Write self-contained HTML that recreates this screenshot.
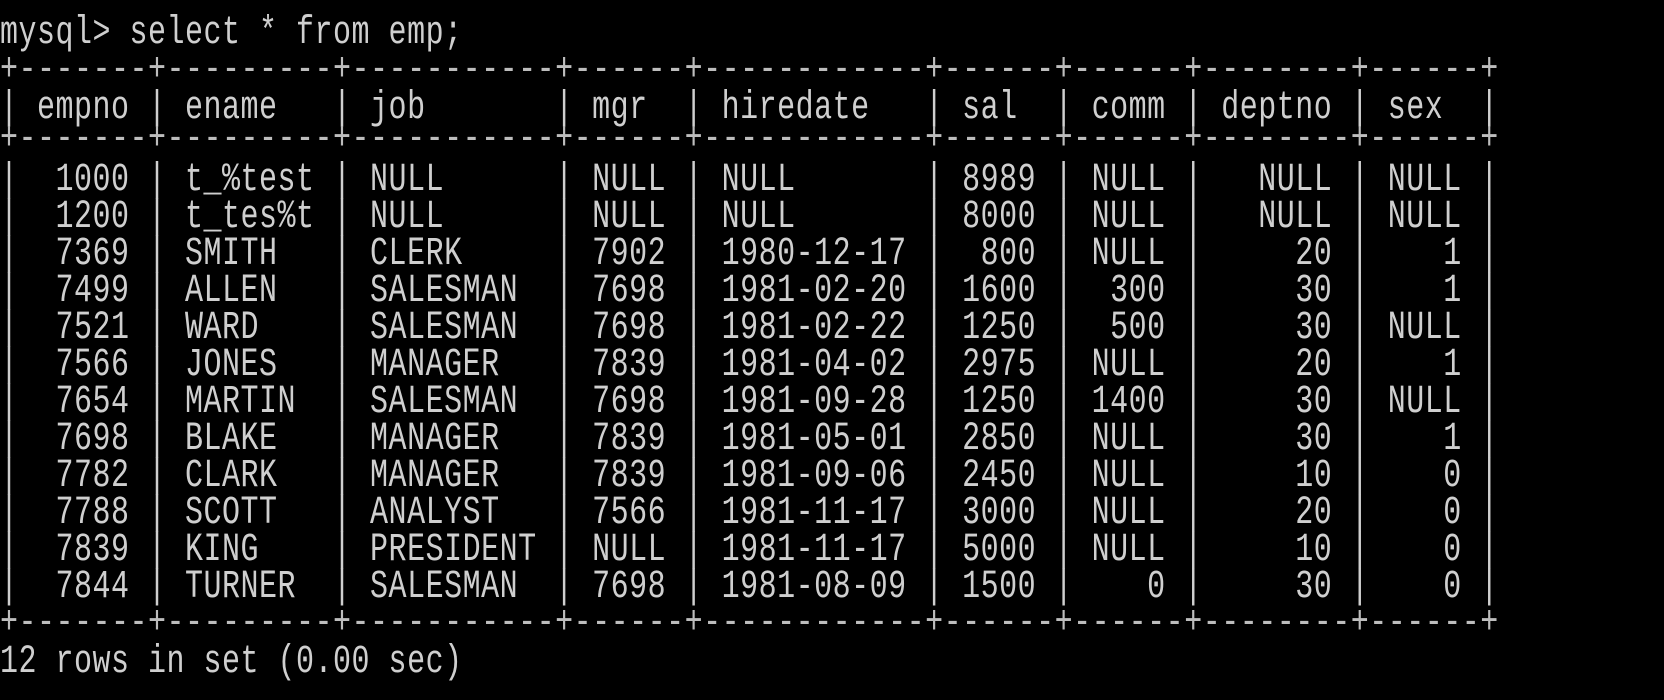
<!DOCTYPE html>
<html><head><meta charset="utf-8">
<style>
html,body{margin:0;padding:0;background:#000;}
#term{position:relative;width:1664px;height:700px;background:#000;overflow:hidden;}
.ln{position:absolute;left:0;height:37px;line-height:37px;white-space:pre;
font-family:"Liberation Mono","Noto Sans CJK SC",monospace;font-size:30px;letter-spacing:0.5px;
color:#cfcfcf;transform:scaleY(1.32);transform-origin:0 50%;}
.bd{color:#bdbdbd;}
</style></head><body>
<div id="term"></div>
<script>
const headers=["empno","ename","job","mgr","hiredate","sal","comm","deptno","sex"];
const widths=[5,7,9,4,10,4,4,6,4];
const rightAlign=[true,false,false,false,false,true,true,true,true];
const empno=["1000","1200","7369","7499","7521","7566","7654","7698","7782","7788","7839","7844"];
const ename=["t_%test","t_tes%t","SMITH","ALLEN","WARD","JONES","MARTIN","BLAKE","CLARK","SCOTT","KING","TURNER"];
const job=["NULL","NULL","CLERK","SALESMAN","SALESMAN","MANAGER","SALESMAN","MANAGER","MANAGER","ANALYST","PRESIDENT","SALESMAN"];
const mgr=["NULL","NULL","7902","7698","7698","7839","7698","7839","7839","7566","NULL","7698"];
const hiredate=["NULL","NULL","1980-12-17","1981-02-20","1981-02-22","1981-04-02","1981-09-28","1981-05-01","1981-09-06","1981-11-17","1981-11-17","1981-08-09"];
const sal=["8989","8000","800","1600","1250","2975","1250","2850","2450","3000","5000","1500"];
const comm=["NULL","NULL","NULL","300","500","NULL","1400","NULL","NULL","NULL","NULL","0"];
const deptno=["NULL","NULL","20","30","30","20","30","30","10","20","10","30"];
const sex=["NULL","NULL","1","1","NULL","1","NULL","1","0","0","0","0"];
const cols=[empno,ename,job,mgr,hiredate,sal,comm,deptno,sex];

const term=document.getElementById('term');
function line(text,cy,name,cls){
  const d=document.createElement('div');
  d.className='ln'+(cls?' '+cls:'');
  d.style.top=(cy-18.5)+'px';
  d.textContent=text;
  
  
  term.appendChild(d);
}
const border='+'+widths.map(w=>'-'.repeat(w+2)).join('+')+'+';
function row(vals,hdr){
  return '|'+vals.map((v,i)=>{
    const w=widths[i];
    const s=(!hdr&&rightAlign[i])?v.padStart(w):v.padEnd(w);
    return ' '+s+' ';
  }).join('|')+'|';
}
line('mysql> select * from emp;',34,'sql-prompt');
line(border,71,'table-top-border','bd');
line(row(headers,true),109,'header-row');
line(border,140,'header-separator','bd');
for(let r=0;r<empno.length;r++){
  line(row(cols.map(c=>c[r]),false),181+r*37,'data-row');
}
line(border,624,'table-bottom-border','bd');
line('12 rows in set (0.00 sec)',663,'result-summary');
</script>
</body></html>
